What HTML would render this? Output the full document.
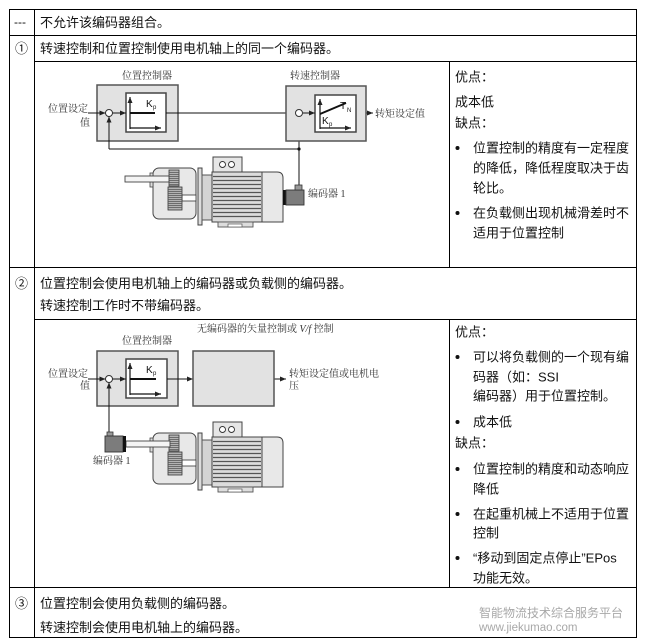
<!DOCTYPE html>
<html><head><meta charset="utf-8">
<style>
html,body{margin:0;padding:0;background:#fff;}
svg{display:block;}
.t{font-family:"Liberation Sans","Noto Sans CJK SC",sans-serif;font-size:13px;fill:#111;}
.d{font-family:"Liberation Serif","Noto Serif CJK SC",serif;font-size:10px;fill:#333;}
.k{font-family:"Liberation Sans",sans-serif;font-size:10px;fill:#111;}
.ks{font-family:"Liberation Sans",sans-serif;font-size:6px;fill:#111;}
.w{font-family:"Liberation Sans","Noto Sans CJK SC",sans-serif;font-size:12px;fill:#a8a8a8;}
</style></head>
<body>
<svg width="647" height="642" viewBox="0 0 647 642" xmlns="http://www.w3.org/2000/svg">
<defs>
<marker id="a" markerWidth="6" markerHeight="6" refX="6" refY="3" orient="auto" markerUnits="userSpaceOnUse"><path d="M0,0.5 L6,3 L0,5.5 z" fill="#222"/></marker>
<g id="motor">
 <rect x="198" y="433" width="4" height="57" fill="#ddd" stroke="#444" stroke-width="1"/>
 <rect x="202" y="440" width="10" height="45" fill="#d4d4d4" stroke="#555" stroke-width="1"/>
 <rect x="153" y="433" width="43" height="51" rx="6" fill="#e8e8e8" stroke="#444" stroke-width="1"/>
 <rect x="150" y="438" width="3" height="14" fill="#ddd" stroke="#444" stroke-width=".8"/>
 <rect x="182" y="460" width="14" height="6" fill="#fff" stroke="#333" stroke-width=".8"/>
 <rect x="169" y="435" width="10" height="16" fill="#b4b4b4" stroke="#333" stroke-width=".8"/>
 <path d="M169,437.5H179M169,439.5H179M169,441.5H179M169,443.5H179M169,445.5H179M169,447.5H179M169,449.5H179" stroke="#555" stroke-width=".7"/>
 <rect x="168" y="452" width="14" height="23" fill="#b4b4b4" stroke="#333" stroke-width=".8"/>
 <path d="M168,454.5H182M168,456.5H182M168,458.5H182M168,460.5H182M168,462.5H182M168,464.5H182M168,466.5H182M168,468.5H182M168,470.5H182M168,472.5H182" stroke="#555" stroke-width=".7"/>
 <rect x="212" y="437" width="50" height="50" fill="#dcdcdc" stroke="#444" stroke-width="1"/>
 <path d="M213,441.5H261M213,445.5H261M213,449.5H261M213,453.5H261M213,457.5H261M213,461.5H261M213,465.5H261M213,469.5H261M213,473.5H261M213,477.5H261M213,481.5H261" stroke="#555" stroke-width="1.2"/>
 <rect x="213" y="422" width="29" height="15" fill="#e6e6e6" stroke="#444" stroke-width="1"/>
 <circle cx="222.5" cy="429.5" r="3" fill="#fff" stroke="#333" stroke-width=".9"/>
 <circle cx="231.5" cy="429.5" r="3" fill="#fff" stroke="#333" stroke-width=".9"/>
 <path d="M262,437H277Q283,437 283,443V487H262Z" fill="#e8e8e8" stroke="#444" stroke-width="1"/>
 <rect x="218" y="487" width="35" height="5" fill="#ddd" stroke="#555" stroke-width=".9"/>
 <rect x="228" y="489" width="14" height="3" fill="#fff" stroke="#555" stroke-width=".7"/>
</g>
</defs>

<!-- table lines -->
<g stroke="#000" stroke-width="1" fill="none">
 <path d="M9.5,9.5H636.5V637.5H9.5Z"/>
 <path d="M34.5,9.5V637.5"/>
 <path d="M9.5,35.5H636.5"/>
 <path d="M34.5,61.5H636.5"/>
 <path d="M9.5,267.5H636.5"/>
 <path d="M34.5,319.5H636.5"/>
 <path d="M9.5,587.5H636.5"/>
 <path d="M449.5,61.5V267.5"/>
 <path d="M449.5,319.5V587.5"/>
</g>

<!-- left column -->
<text x="14" y="26" class="t" style="font-size:12px">---</text>
<text x="40" y="27" class="t">不允许该编码器组合。</text>
<text x="15" y="53" class="t">①</text>
<text x="40" y="53" class="t">转速控制和位置控制使用电机轴上的同一个编码器。</text>
<text x="15" y="288" class="t">②</text>
<text x="40" y="288" class="t">位置控制会使用电机轴上的编码器或负载侧的编码器。</text>
<text x="40" y="310" class="t">转速控制工作时不带编码器。</text>
<text x="15" y="608" class="t">③</text>
<text x="40" y="608" class="t">位置控制会使用负载侧的编码器。</text>
<text x="40" y="632" class="t">转速控制会使用电机轴上的编码器。</text>

<!-- watermark -->
<text x="479" y="617" class="w">智能物流技术综合服务平台</text>
<text x="479" y="631" class="w" style="font-size:11.5px">www.jiekumao.com</text>

<!-- right column row 1 -->
<text x="455" y="81.5" class="t">优点：</text>
<text x="455" y="106.5" class="t">成本低</text>
<text x="455" y="127.5" class="t">缺点：</text>
<circle cx="457.5" cy="148" r="2" fill="#111"/>
<text x="473" y="152.5" class="t">位置控制的精度有一定程度</text>
<text x="473" y="172.5" class="t">的降低，降低程度取决于齿</text>
<text x="473" y="192.5" class="t">轮比。</text>
<circle cx="457.5" cy="213" r="2" fill="#111"/>
<text x="473" y="217.5" class="t">在负载侧出现机械滑差时不</text>
<text x="473" y="237.5" class="t">适用于位置控制</text>

<!-- right column row 2 -->
<text x="455" y="336.5" class="t">优点：</text>
<circle cx="457.5" cy="357" r="2" fill="#111"/>
<text x="473" y="361.5" class="t">可以将负载侧的一个现有编</text>
<text x="473" y="381.5" class="t">码器（如：SSI</text>
<text x="473" y="400.5" class="t">编码器）用于位置控制。</text>
<circle cx="457.5" cy="422" r="2" fill="#111"/>
<text x="473" y="426.5" class="t">成本低</text>
<text x="455" y="447.5" class="t">缺点：</text>
<circle cx="457.5" cy="469" r="2" fill="#111"/>
<text x="473" y="473.5" class="t">位置控制的精度和动态响应</text>
<text x="473" y="493.5" class="t">降低</text>
<circle cx="457.5" cy="514" r="2" fill="#111"/>
<text x="473" y="518.5" class="t">在起重机械上不适用于位置</text>
<text x="473" y="537.5" class="t">控制</text>
<circle cx="457.5" cy="558" r="2" fill="#111"/>
<text x="473" y="562.5" class="t">“移动到固定点停止”EPos</text>
<text x="473" y="582.5" class="t">功能无效。</text>

<!-- ===== Diagram 1 ===== -->
<text x="147" y="79" class="d" text-anchor="middle">位置控制器</text>
<text x="315" y="79" class="d" text-anchor="middle">转速控制器</text>
<text x="48" y="112" class="d">位置设定</text>
<text x="80" y="126" class="d">值</text>

<rect x="97" y="85" width="81" height="56" fill="#e2e2e2" stroke="#555" stroke-width="1.5"/>
<rect x="126" y="93" width="40" height="39" fill="#fff" stroke="#444" stroke-width="1.5"/>
<g stroke="#111" stroke-width="1.2" fill="none">
 <path d="M130,129V97" marker-end="url(#a)"/>
 <path d="M130,128H161" marker-end="url(#a)"/>
</g>
<path d="M130,113H155" stroke="#111" stroke-width="2"/>
<text x="146" y="107" class="k">K</text><text x="153" y="109" class="ks">p</text>

<circle cx="109" cy="113" r="3.5" fill="#fff" stroke="#333" stroke-width="1"/>
<g stroke="#111" stroke-width="1" fill="none">
 <path d="M88,113H105.5" marker-end="url(#a)"/>
 <path d="M112.5,113H126" marker-end="url(#a)"/>
 <path d="M166,113H295.5" marker-end="url(#a)"/>
 <path d="M109,149V116.5" marker-end="url(#a)"/>
 <path d="M109,149H299"/>
 <path d="M299,185V116.5" marker-end="url(#a)"/>
 <path d="M303,113H315" marker-end="url(#a)"/>
 <path d="M356,113H373" marker-end="url(#a)"/>
</g>
<circle cx="299" cy="149" r="1.6" fill="#111"/>

<rect x="286" y="86" width="80" height="55" fill="#e2e2e2" stroke="#555" stroke-width="1.5"/>
<rect x="315" y="95" width="41" height="37" fill="#fff" stroke="#444" stroke-width="1.5"/>
<circle cx="299" cy="113" r="3.5" fill="#fff" stroke="#333" stroke-width="1"/>
<path d="M303,113H315" stroke="#111" stroke-width="1" marker-end="url(#a)"/>
<g stroke="#111" stroke-width="1.2" fill="none">
 <path d="M320,129V99" marker-end="url(#a)"/>
 <path d="M320,128H351" marker-end="url(#a)"/>
</g>
<path d="M320,114L346,103" stroke="#111" stroke-width="2"/>
<text x="340" y="109" class="k">T</text><text x="347" y="112" class="ks">N</text>
<text x="322" y="124" class="k">K</text><text x="329" y="126" class="ks">p</text>
<text x="375" y="117" class="d">转矩设定值</text>

<!-- motor 1 -->
<use href="#motor" transform="translate(0,-265)"/>
<rect x="125" y="176" width="44" height="6" fill="#f4f4f4" stroke="#444" stroke-width=".9"/>
<rect x="283" y="190" width="3" height="15" fill="#111"/>
<rect x="286" y="190" width="18" height="15" fill="#7c7c7c" stroke="#333" stroke-width=".9"/>
<rect x="295" y="185" width="7" height="5" fill="#999" stroke="#333" stroke-width=".8"/>
<text x="308" y="197" class="d">编码器 1</text>

<!-- ===== Diagram 2 ===== -->
<text x="197" y="332" class="d">无编码器的矢量控制或 <tspan font-style="italic">V/f</tspan> 控制</text>
<text x="147" y="344" class="d" text-anchor="middle">位置控制器</text>
<text x="48" y="377" class="d">位置设定</text>
<text x="80" y="389" class="d">值</text>

<rect x="97" y="351" width="81" height="55" fill="#e2e2e2" stroke="#555" stroke-width="1.5"/>
<rect x="126" y="359" width="41" height="39" fill="#fff" stroke="#444" stroke-width="1.5"/>
<g stroke="#111" stroke-width="1.2" fill="none">
 <path d="M130,395V363" marker-end="url(#a)"/>
 <path d="M130,394H161" marker-end="url(#a)"/>
</g>
<path d="M130,379H156" stroke="#111" stroke-width="2"/>
<text x="146" y="373" class="k">K</text><text x="153" y="375" class="ks">p</text>
<circle cx="109" cy="379" r="3.5" fill="#fff" stroke="#333" stroke-width="1"/>
<g stroke="#111" stroke-width="1" fill="none">
 <path d="M88,379H105.5" marker-end="url(#a)"/>
 <path d="M112.5,379H126" marker-end="url(#a)"/>
 <path d="M167,379H193" marker-end="url(#a)"/>
 <path d="M274,379H286" marker-end="url(#a)"/>
 <path d="M109,432V382.5" marker-end="url(#a)"/>
</g>
<rect x="193" y="351" width="81" height="55" fill="#e2e2e2" stroke="#555" stroke-width="1.5"/>
<text x="289" y="377" class="d">转矩设定值或电机电</text>
<text x="289" y="389" class="d">压</text>

<!-- motor 2 -->
<use href="#motor"/>
<rect x="126" y="441" width="44" height="6" fill="#f4f4f4" stroke="#444" stroke-width=".9"/>
<rect x="107" y="432" width="6" height="4" fill="#999" stroke="#333" stroke-width=".8"/>
<rect x="105" y="436" width="18" height="16" fill="#7c7c7c" stroke="#333" stroke-width=".9"/>
<rect x="123" y="436" width="3" height="16" fill="#111"/>
<text x="93" y="464" class="d">编码器 1</text>
</svg>
</body></html>
